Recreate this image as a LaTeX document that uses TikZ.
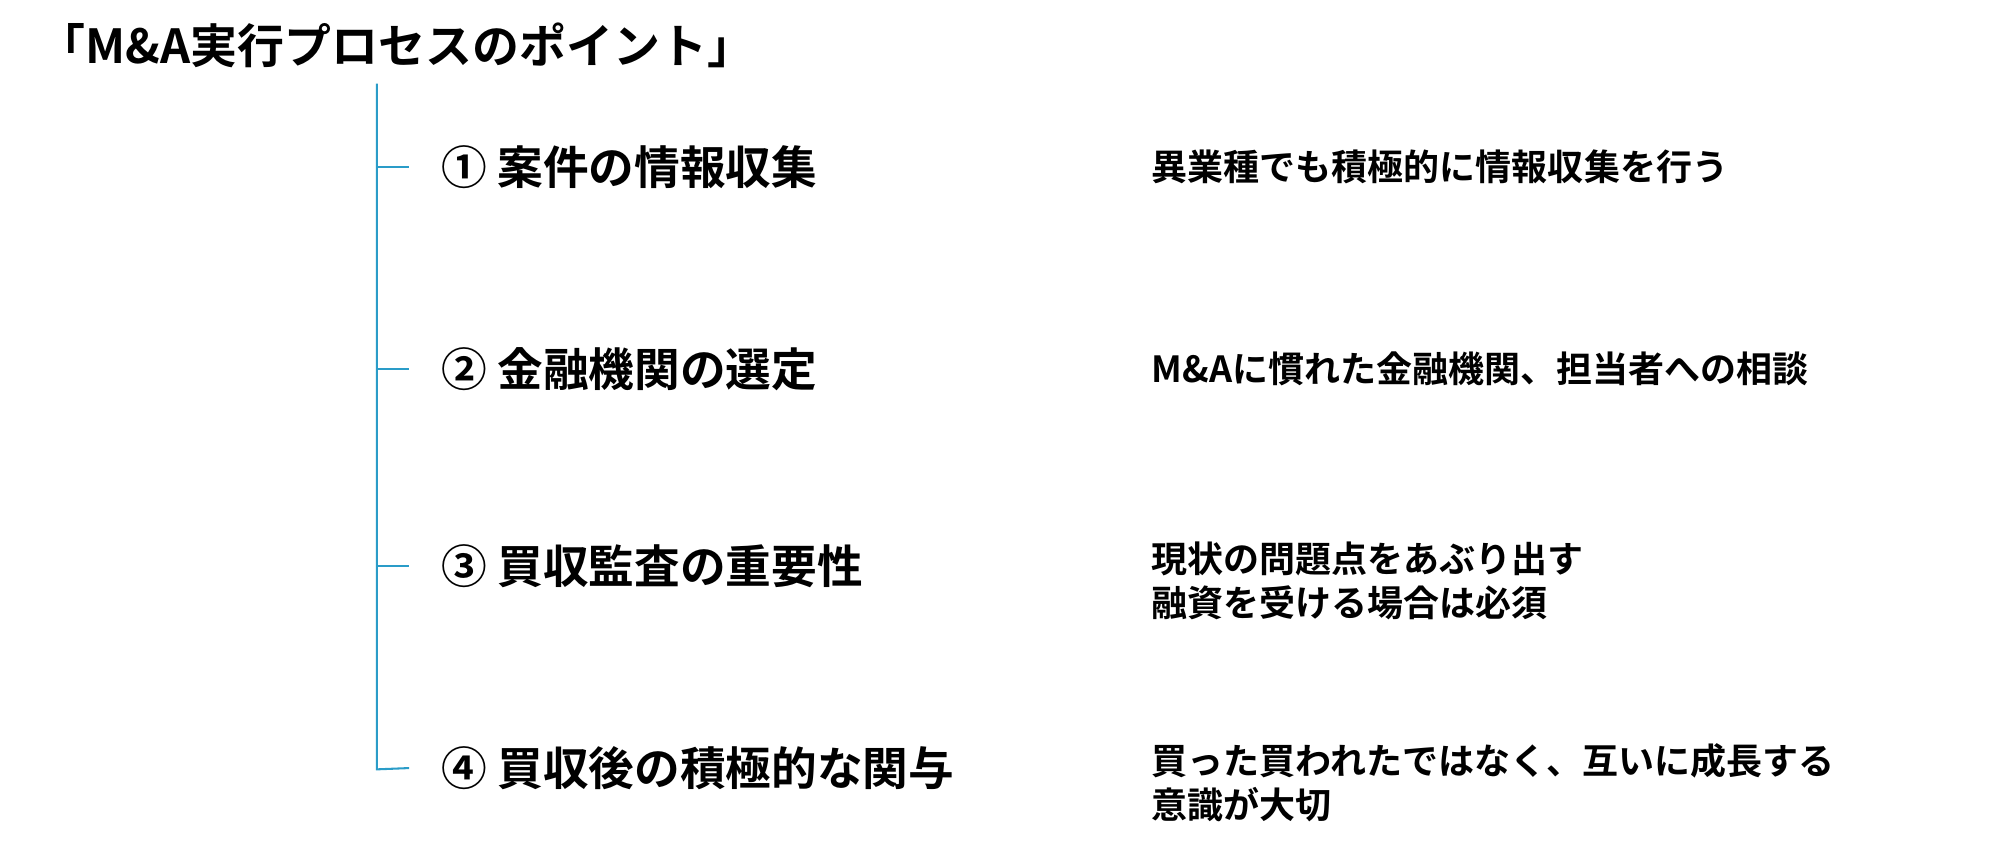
\documentclass[tikz,border=0pt]{standalone}
\usepackage{fontspec}
\setmainfont{Noto Sans CJK JP}[BoldFont={* Bold}]
\definecolor{ln}{HTML}{2A9CC8}
\begin{document}
\begin{tikzpicture}[x=1pt,y=-1pt,
  title/.style={anchor=west,font=\fontsize{36.5}{40}\selectfont\bfseries,inner sep=0},
  item/.style={anchor=west,font=\fontsize{35.5}{40}\selectfont\bfseries,inner sep=0},
  note/.style={anchor=west,font=\fontsize{28}{34}\selectfont\bfseries,inner sep=0,align=left},
  conn/.style={ln,line width=1.6pt}]
\useasboundingbox (0,0) rectangle (1560,663);
\node[title] (t) at (30,35) {「M\&A実行プロセスのポイント」};
\coordinate (top) at (293,65);
\coordinate (c4) at (293,598);
\node[item] (i1) at (343,130) {① 案件の情報収集};
\node[item] (i2) at (343,287) {② 金融機関の選定};
\node[item] (i3) at (343,440) {③ 買収監査の重要性};
\node[item] (i4) at (343,597) {④ 買収後の積極的な関与};
\node[note] (n1) at (895,130) {異業種でも積極的に情報収集を行う};
\node[note] (n2) at (895,287) {M\&Aに慣れた金融機関、担当者への相談};
\node[note,anchor=north west] (n3) at (895,421) {現状の問題点をあぶり出す\\融資を受ける場合は必須};
\node[note,anchor=north west] (n4) at (895,578) {買った買われたではなく、互いに成長する\\意識が大切};
\draw[conn] (top) -- (c4) -- ([xshift=-25pt]i4.west);
\foreach \i in {i1,i2,i3}{\draw[conn] (\i.west -| top) -- ([xshift=-25pt]\i.west);}
\end{tikzpicture}
\end{document}
